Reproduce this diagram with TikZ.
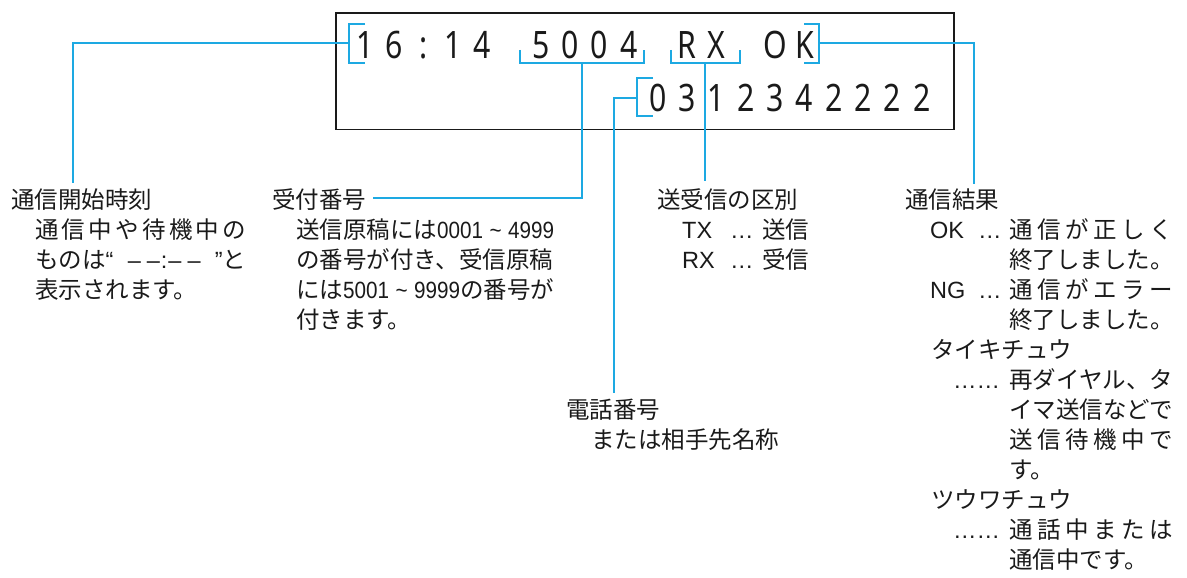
\documentclass[tikz,border=0pt]{standalone}
\usepackage{fontspec}
\setmainfont{Liberation Sans}
\newfontfamily\jp{Noto Sans CJK JP}
\newfontfamily\lat{Liberation Sans}
\newfontfamily\latc[FakeStretch=0.88]{Liberation Sans}
\newfontfamily\lcdf[FakeStretch=0.8]{Noto Sans}
\definecolor{callout}{RGB}{29,169,226}
\definecolor{inkc}{RGB}{26,26,26}
\makeatletter
\def\jus@a#1{\ifx#1\relax\else\hfil#1\expandafter\jus@a\fi}
\def\jus@b#1{#1\jus@a}
\newcommand\jus[2]{\makebox[#1][s]{\jus@b#2\relax}}
\makeatother
\newcommand\dsh{\rule[0.3em]{0.42em}{0.06em}}
\begin{document}
\begin{tikzpicture}[x=1pt,y=-1pt,
  dispbox/.style={draw=inkc, line width=1.8pt, inner sep=0pt, anchor=north west},
  brk/.style={draw=callout, line width=1.8pt},
  conn/.style={draw=callout, line width=1.8pt},
  lcd/.style={anchor=base, inner sep=0pt, font=\lcdf\fontsize{37.8}{40}\selectfont, text=inkc},
  txt/.style={anchor=base west, inner sep=0pt, font=\jp\fontsize{23.5}{30}\selectfont, text=inkc}]
\useasboundingbox (0,0) rectangle (1187,578);

% display
\node[dispbox, minimum width=618pt, minimum height=116.5pt] (disp) at (335,12) {};

% LCD characters, row 1
\foreach \ch [count=\k from 0] in {1,6,:,1,4}
  \node[lcd] (ra\k) at ({365+29.3*\k},59) {\ch};
\foreach \ch [count=\k from 6] in {5,0,0,4}
  \node[lcd] (ra\k) at ({365+29.3*\k},59) {\ch};
\foreach \ch [count=\k from 11] in {R,X}
  \node[lcd] (ra\k) at ({365+29.3*\k},59) {\ch};
\foreach \ch [count=\k from 14] in {O,K}
  \node[lcd] (ra\k) at ({365+29.3*\k},59) {\ch};
% row 2
\foreach \ch [count=\k from 10] in {0,3,1,2,3,4,2,2,2,2}
  \node[lcd] (rb\k) at ({365+29.3*\k},111.7) {\ch};

% brackets
\draw[brk] (365,24) -- (349,24) -- (349,63) -- (365,63);
\coordinate (br1) at (349,43);
\draw[brk] (520,50) -- (520,63) -- (644,63) -- (644,50);
\coordinate (br2) at (582,63);
\draw[brk] (671,50) -- (671,63) -- (740,63) -- (740,50);
\coordinate (br3) at (705,63);
\draw[brk] (804,24) -- (819,24) -- (819,63) -- (804,63);
\coordinate (br4) at (819,43);
\draw[brk] (653,78) -- (637,78) -- (637,116) -- (653,116);
\coordinate (br5) at (637,98);

% block A
\node[txt] (hA) at (11,208.5) {通信開始時刻};
\node[txt] (a1) at (35,238.5) {\jus{211pt}{通信中や待機中の}};
\node[txt] (a2) at (35,268.5) {\makebox[211pt][s]{ものは{\lat “}\hfil{\lat –\kern6pt–\kern1pt:\kern1pt–\kern6pt–}\hfil{\lat ”}と}};
\node[txt] (a3) at (35,298.5) {表示されます。};

% block B
\node[txt] (hB) at (272,208.5) {受付番号};
\node[txt] (b1) at (296,238.5) {\makebox[258pt][s]{送信原稿には{\latc 0001 \textasciitilde{} 4999}}};
\node[txt] (b2) at (296,268.5) {の番号が付き、受信原稿};
\node[txt] (b3) at (296,298.5) {\makebox[258pt][s]{には{\latc 5001 \textasciitilde{} 9999}の番号が}};
\node[txt] (b4) at (296,328.5) {付きます。};

% block C
\node[txt] (hC) at (657,208.5) {送受信の区別};
\node[txt] (cT) at (682,238.5) {\lat TX};
\node[txt] (cTd) at (730,238.5) {\lat …};
\node[txt] (cTj) at (762,238.5) {送信};
\node[txt] (cR) at (682,268.5) {\lat RX};
\node[txt] (cRd) at (730,268.5) {\lat …};
\node[txt] (cRj) at (762,268.5) {受信};

% block D
\node[txt] (hD) at (566,418.5) {電話番号};
\node[txt] (d1) at (591,448.5) {または相手先名称};

% block E
\node[txt] (hE) at (905,208.5) {通信結果};
\node[txt] (eOK) at (930,238.5) {\lat OK};
\node[txt] (eOKd) at (978,238.5) {\lat …};
\node[txt] (e1) at (1009,238.5) {\jus{164pt}{通信が正しく}};
\node[txt] (e2) at (1009,268.5) {終了しました。};
\node[txt] (eNG) at (930,298.5) {\lat NG};
\node[txt] (eNGd) at (978,298.5) {\lat …};
\node[txt] (e3) at (1009,298.5) {\jus{164pt}{通信がエラー}};
\node[txt] (e4) at (1009,328.5) {終了しました。};
\node[txt] (e5) at (931,358.5) {タイキチュウ};
\node[txt] (e6d) at (953,388.5) {\lat ……};
\node[txt] (e6) at (1009,388.5) {再ダイヤル、タ};
\node[txt] (e7) at (1009,418.5) {イマ送信などで};
\node[txt] (e8) at (1009,448.5) {\jus{164pt}{送信待機中で}};
\node[txt] (e9) at (1009,478.5) {す。};
\node[txt] (e10) at (931,508.5) {ツウワチュウ};
\node[txt] (e11d) at (953,538.5) {\lat ……};
\node[txt] (e11) at (1009,538.5) {\jus{164pt}{通話中または}};
\node[txt] (e12) at (1009,568.5) {通信中です。};

% connector ends
\coordinate (eA) at (73,183);
\coordinate (eB) at (373,198);
\coordinate (eC) at (705,181);
\coordinate (eD) at (614,393);
\coordinate (eE) at (974,184);

% connectors
\draw[conn] (br1) -| (eA);
\draw[conn] (br2) |- (eB);
\draw[conn] (br3) -- (eC);
\draw[conn] (br4) -| (eE);
\draw[conn] (br5) -| (eD);
\end{tikzpicture}
\end{document}
